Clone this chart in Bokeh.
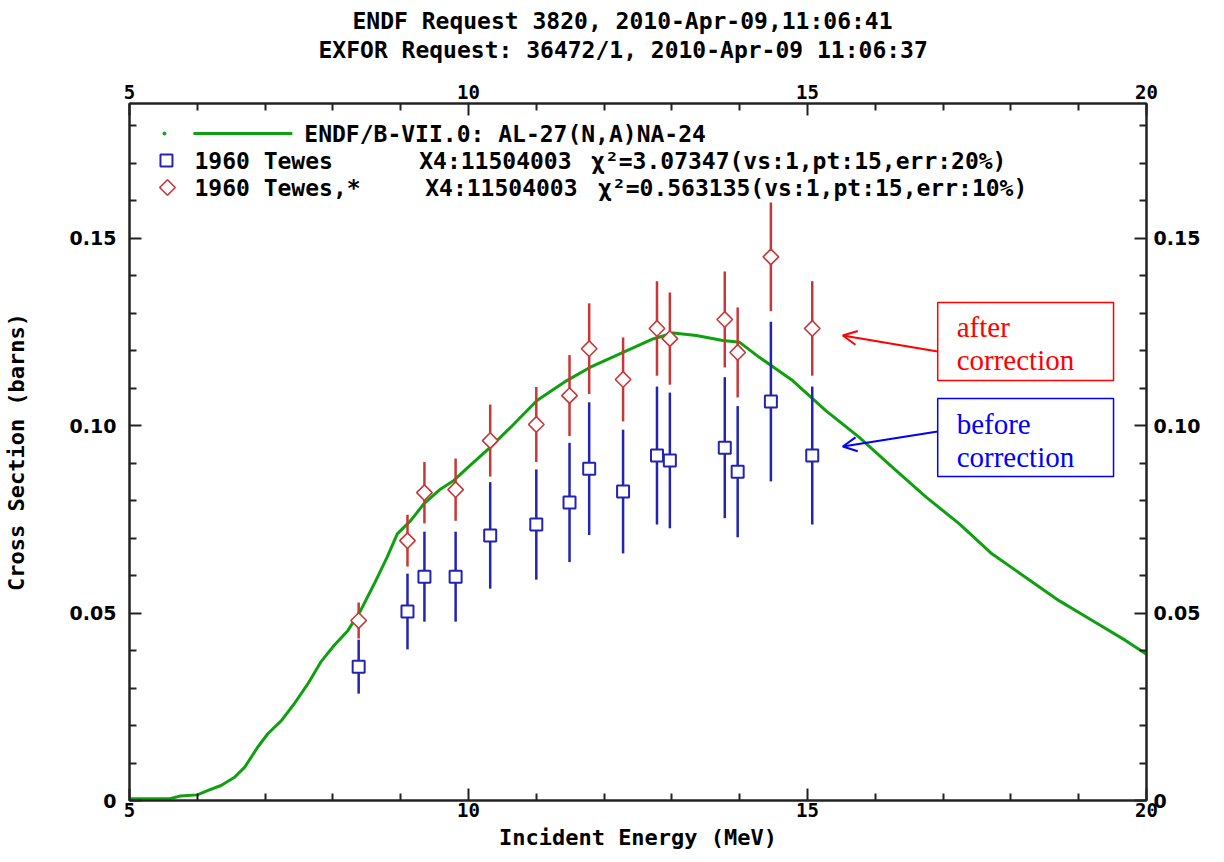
import numpy as np
from bokeh.plotting import figure
from bokeh.models import (Range1d, LinearAxis, FixedTicker, Label, Title,
                          BoxAnnotation, Arrow, OpenHead)
from bokeh.core.properties import value
from bokeh.embed import file_html
from bokeh.resources import INLINE

# ---------------- data ----------------
# ENDF/B-VII.0 evaluated curve (Incident energy MeV, cross section barns)
endf_e = [5.0, 5.6, 5.75, 6.0, 6.16, 6.35, 6.55, 6.70, 6.89, 7.04, 7.24, 7.43,
          7.63, 7.82, 8.02, 8.22, 8.41, 8.61, 8.80, 8.95, 9.15, 9.34, 9.59,
          9.78, 10.0, 10.32, 10.62, 11.01, 11.45, 11.79, 12.28, 12.72, 13.02,
          13.36, 13.75, 14.0, 14.29, 14.78, 15.27, 15.76, 16.25, 16.75, 17.24,
          17.72, 18.22, 18.71, 19.2, 19.69, 20.0]
endf_xs = [0.0005, 0.0005, 0.0012, 0.0015, 0.0027, 0.0040, 0.0062, 0.0089,
           0.0142, 0.0178, 0.0213, 0.0258, 0.0311, 0.0369, 0.0414, 0.0453,
           0.0507, 0.0578, 0.0649, 0.0711, 0.0747, 0.0791, 0.0831, 0.0853,
           0.0890, 0.0942, 0.0995, 0.1067, 0.1120, 0.1155, 0.1195, 0.1231,
           0.1247, 0.1240, 0.1227, 0.1222, 0.1182, 0.1120, 0.1040, 0.0969,
           0.0889, 0.0809, 0.0738, 0.0658, 0.0595, 0.0533, 0.0480, 0.0427,
           0.0390]

# 1960 Tewes (before correction)
tewes_e = [8.38, 9.10, 9.35, 9.81, 10.32, 11.00, 11.49, 11.78, 12.28, 12.78,
           12.97, 13.78, 13.97, 14.46, 15.07]
tewes_xs = [0.0357, 0.0504, 0.0597, 0.0597, 0.0707, 0.0736, 0.0795, 0.0885,
            0.0824, 0.0920, 0.0907, 0.0941, 0.0877, 0.1064, 0.0920]
tewes_err = [0.0072, 0.0101, 0.0120, 0.0120, 0.0142, 0.0147, 0.0159, 0.0177,
             0.0165, 0.0184, 0.0181, 0.0188, 0.0175, 0.0213, 0.0184]

# 1960 Tewes,* (after correction)
corr_xs = [0.0480, 0.0693, 0.0821, 0.0829, 0.0960, 0.1003, 0.1080, 0.1205,
           0.1123, 0.1259, 0.1232, 0.1283, 0.1195, 0.1450, 0.1259]
corr_err = [0.0048, 0.0069, 0.0082, 0.0083, 0.0096, 0.0100, 0.0108, 0.0121,
            0.0112, 0.0126, 0.0123, 0.0128, 0.0120, 0.0145, 0.0126]

x_ticks = [5, 10, 15, 20]
x_minor = [6, 7, 8, 9, 11, 12, 13, 14, 16, 17, 18, 19]
y_ticks = [0.0, 0.05, 0.10, 0.15]
y_minor = [0.01, 0.02, 0.03, 0.04, 0.06, 0.07, 0.08, 0.09, 0.11, 0.12, 0.13,
           0.14, 0.16, 0.17, 0.18]
y_tick_labels = {0.0: "0", 0.05: "0.05", 0.10: "0.10", 0.15: "0.15"}

title1 = "ENDF Request 3820, 2010-Apr-09,11:06:41"
title2 = "EXFOR Request: 36472/1, 2010-Apr-09 11:06:37"
x_label = "Incident Energy (MeV)"
y_label = "Cross Section (barns)"
legend_names = ["ENDF/B-VII.0: AL-27(N,A)NA-24", "1960 Tewes", "1960 Tewes,*"]
legend_x4 = ["X4:11504003", "X4:11504003"]
legend_chi = ["\u03c7\u00b2=3.07347(vs:1,pt:15,err:20%)",
              "\u03c7\u00b2=0.563135(vs:1,pt:15,err:10%)"]

# ---------------- style ----------------
GREEN = "#0fa00f"
BLUE = "#2323b4"
RED = "#c83737"
AXC = "#222222"
MONO = "DejaVu Sans Mono"

XMIN, XMAX, YMIN, YMAX = 5.0, 20.0, 0.0, 0.1859
# frame placement in page pixels (used only for annotation placement)
FL, FR, FT, FB = 128.0, 1146.0, 103.0, 800.0


def X(px):
    return XMIN + (px - FL) * (XMAX - XMIN) / (FR - FL)


def Y(py):
    return YMIN + (FB - py) * (YMAX - YMIN) / (FB - FT)


p = figure(width=1224, height=862,
           x_range=Range1d(XMIN, XMAX), y_range=Range1d(YMIN, YMAX),
           output_backend="svg", toolbar_location=None,
           min_border_left=128, min_border_right=78,
           min_border_top=103, min_border_bottom=62,
           x_axis_label=x_label, y_axis_label=y_label)
p.xgrid.visible = False
p.ygrid.visible = False
p.outline_line_color = AXC
p.outline_line_width = 2
p.background_fill_color = "white"
p.border_fill_color = "white"

top_axis = LinearAxis()
p.add_layout(top_axis, "above")
right_axis = LinearAxis()
p.add_layout(right_axis, "right")

# spacer between the top axis and the two header lines
p.add_layout(Title(text=" ", text_font_size="2px", standoff=14), "above")
head_kw = dict(text_font=MONO, text_font_size="23px", text_font_style="bold",
               text_color="black", align="left")
p.add_layout(Title(text=title2, standoff=2, offset=189, **head_kw), "above")
p.add_layout(Title(text=title1, standoff=0, offset=223, **head_kw), "above")

for ax in p.xaxis:
    ax.ticker = FixedTicker(ticks=x_ticks, minor_ticks=x_minor)
    ax.major_label_text_font = MONO
    ax.major_label_text_font_size = "19px"
    ax.major_label_text_font_style = "bold"
    ax.major_label_standoff = 2
p.xaxis[0].major_label_standoff = 5
for ax in p.yaxis:
    ax.ticker = FixedTicker(ticks=y_ticks, minor_ticks=y_minor)
    ax.major_label_overrides = y_tick_labels
    ax.major_label_text_font = "DejaVu Sans"
    ax.major_label_text_font_size = "19px"
    ax.major_label_text_font_style = "bold"
p.yaxis[0].major_label_standoff = 13
right_axis.major_label_standoff = 7

for ax in p.axis:
    ax.major_tick_in = 12
    ax.major_tick_out = 0
    ax.minor_tick_in = 7
    ax.minor_tick_out = 0
    ax.axis_line_width = 2
    ax.axis_line_color = AXC
    ax.major_tick_line_width = 2
    ax.major_tick_line_color = AXC
    ax.minor_tick_line_width = 2
    ax.minor_tick_line_color = AXC
    ax.major_label_text_color = "black"
    ax.axis_label_text_font = MONO
    ax.axis_label_text_font_size = "22px"
    ax.axis_label_text_font_style = "bold"
    ax.axis_label_text_color = "black"
p.xaxis[0].axis_label_standoff = 15
p.yaxis[0].axis_label_standoff = 38

# ---------------- glyphs ----------------
p.line(endf_e, endf_xs, line_color=GREEN, line_width=3)

te = np.array(tewes_e)
tx = np.array(tewes_xs)
terr = np.array(tewes_err)
cx = np.array(corr_xs)
cerr = np.array(corr_err)

p.segment(x0=te, y0=tx - terr, x1=te, y1=tx + terr, line_color=BLUE,
          line_width=2.5)
p.segment(x0=te, y0=cx - cerr, x1=te, y1=cx + cerr, line_color=RED,
          line_width=2.5)
p.scatter(te, tx, marker="square", size=12, fill_color="white",
          line_color=BLUE, line_width=2)
p.scatter(te, cx, marker="square", angle=np.pi / 4, size=11,
          fill_color="white", line_color=RED, line_width=1.6)

# ---------------- legend (drawn inside frame) ----------------
p.scatter([X(163)], [Y(133)], marker="circle", size=3, fill_color=GREEN,
          line_color=GREEN)
p.segment(x0=[X(192)], y0=[Y(133)], x1=[X(291)], y1=[Y(133)],
          line_color=GREEN, line_width=3)
p.scatter([X(165)], [Y(160)], marker="square", size=12, fill_color="white",
          line_color=BLUE, line_width=2)
p.scatter([X(166)], [Y(187)], marker="square", angle=np.pi / 4, size=11,
          fill_color="white", line_color=RED, line_width=1.6)

txt_kw = dict(text_font=value(MONO), text_font_style="bold",
              text_font_size="23px", text_baseline="middle",
              text_align="left", text_color="black")
p.text(x=[X(303), X(193), X(193)], y=[Y(133), Y(160), Y(187)],
       text=legend_names, **txt_kw)
p.text(x=[X(418), X(424)], y=[Y(160), Y(187)], text=legend_x4, **txt_kw)
p.text(x=[X(590), X(597)], y=[Y(160), Y(187)], text=legend_chi, **txt_kw)

# ---------------- annotations ----------------
for (top, bot, col) in [(302, 380, "red"), (398, 476, "blue")]:
    p.add_layout(BoxAnnotation(left=X(937), right=X(1113), top=Y(top),
                               bottom=Y(bot), fill_color="white",
                               fill_alpha=1.0, line_color=col,
                               line_alpha=1.0, line_width=1.5))

ann_kw = dict(text_font="Liberation Serif", text_font_size="29px",
              text_baseline="middle", text_align="left")
p.add_layout(Label(x=X(956), y=Y(326), text="after", text_color="red", **ann_kw))
p.add_layout(Label(x=X(956), y=Y(359), text="correction", text_color="red", **ann_kw))
p.add_layout(Label(x=X(956), y=Y(423), text="before", text_color="blue", **ann_kw))
p.add_layout(Label(x=X(956), y=Y(456), text="correction", text_color="blue", **ann_kw))

p.add_layout(Arrow(end=OpenHead(size=14, line_color="red", line_width=2),
                   x_start=X(937), y_start=Y(351), x_end=X(842), y_end=Y(335),
                   line_color="red", line_width=2))
p.add_layout(Arrow(end=OpenHead(size=14, line_color="blue", line_width=2),
                   x_start=X(937), y_start=Y(431), x_end=X(842), y_end=Y(446),
                   line_color="blue", line_width=2))

open("out.html", "w").write(file_html(p, INLINE))
